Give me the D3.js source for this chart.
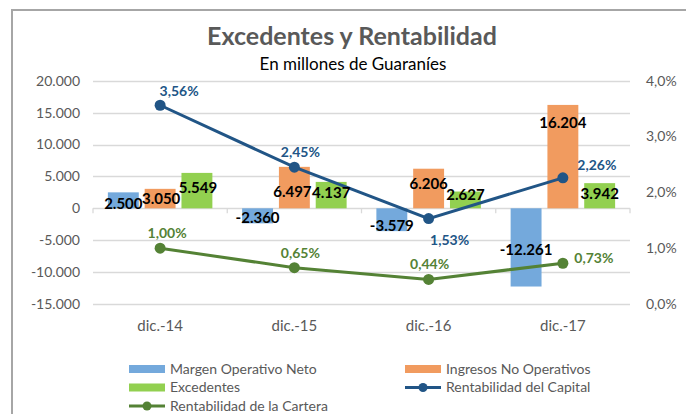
<!DOCTYPE html>
<html>
<head>
<meta charset="utf-8">
<script src="https://cdn.jsdelivr.net/npm/d3@7"></script>
<style>
  body { margin: 0; background: #fff; }
  svg { font-family: Lato, "Open Sans", sans-serif; }
  .tick-lbl { fill: #595959; font-size: 14px; }
  .cat-lbl { fill: #595959; font-size: 15px; }
  .legend text { fill: #595959; font-size: 14px; }
  .bar-lbl { font-weight: bold; font-size: 15px; fill: #000; text-anchor: middle; }
  .pct-lbl { font-weight: bold; font-size: 14px; text-anchor: middle; }
</style>
</head>
<body>
<svg id="chart" width="686" height="414"></svg>
<script>
// data
var categories = ["dic.-14", "dic.-15", "dic.-16", "dic.-17"];
var margenOperativo = [2500, -2360, -3579, -12261];
var ingresosNoOper = [3050, 6497, 6206, 16204];
var excedentes = [5549, 4137, 2627, 3942];
var rentCapital = [3.56, 2.45, 1.53, 2.26];
var rentCartera = [1.00, 0.65, 0.44, 0.73];
var leftTicks = [20000, 15000, 10000, 5000, 0, -5000, -10000, -15000];
var rightTicks = [4, 3, 2, 1, 0];

var barSeries = [
  { name: "Margen Operativo Neto", values: margenOperativo, color: "#74a9dc" },
  { name: "Ingresos No Operativos", values: ingresosNoOper, color: "#f19b5f" },
  { name: "Excedentes", values: excedentes, color: "#92d050" }
];
var lineSeries = [
  { name: "Rentabilidad del Capital", values: rentCapital, color: "#215586" },
  { name: "Rentabilidad de la Cartera", values: rentCartera, color: "#548235" }
];

var svg = d3.select("#chart");

// outer frame (chart border runs off the right/bottom edge)
svg.append("rect")
  .attr("x", 12).attr("y", 10)
  .attr("width", 700).attr("height", 430)
  .attr("fill", "#fff")
  .attr("stroke", "#a6a6a6")
  .attr("stroke-width", 2);

var plot = { left: 93, right: 630, top: 80.7, bottom: 304 };

var x = d3.scaleBand().domain(categories).range([plot.left, plot.right]);
var groupW = 104.5;
var x1 = d3.scaleBand().domain(d3.range(barSeries.length)).range([0, groupW]).paddingInner(0.16);
var y = d3.scaleLinear().domain([-15000, 20000]).range([plot.bottom, plot.top]);
var yR = d3.scaleLinear().domain([0, 4]).range([plot.bottom, plot.top]);

var fmtN = function (v) {
  var s = d3.format(",")(Math.abs(v)).replace(/,/g, ".");
  return (v < 0 ? "-" : "") + s;
};
var fmtP = function (v) { return v.toFixed(2).replace(".", ",") + "%"; };

// gridlines
svg.append("g").selectAll("line")
  .data(leftTicks)
  .enter().append("line")
  .attr("x1", plot.left).attr("x2", plot.right)
  .attr("y1", function (d) { return Math.round(y(d)) + 0.5; })
  .attr("y2", function (d) { return Math.round(y(d)) + 0.5; })
  .attr("stroke", "#d9d9d9").attr("stroke-width", 1.3);

// category tick marks on zero line
svg.append("g").selectAll("line")
  .data(d3.range(categories.length + 1))
  .enter().append("line")
  .attr("x1", function (i) { return plot.left + i * x.step(); })
  .attr("x2", function (i) { return plot.left + i * x.step(); })
  .attr("y1", y(0)).attr("y2", y(0) + 5)
  .attr("stroke", "#d9d9d9").attr("stroke-width", 1.3);

// left axis labels
svg.append("g").selectAll("text")
  .data(leftTicks)
  .enter().append("text")
  .attr("class", "tick-lbl")
  .attr("x", 80).attr("y", function (d) { return y(d); })
  .attr("dy", "0.35em")
  .attr("text-anchor", "end")
  .text(fmtN);

// right axis labels
svg.append("g").selectAll("text")
  .data(rightTicks)
  .enter().append("text")
  .attr("class", "tick-lbl")
  .attr("x", 646).attr("y", function (d) { return yR(d); })
  .attr("dy", "0.35em")
  .text(function (d) { return d.toFixed(1).replace(".", ",") + "%"; });

// category labels
svg.append("g").selectAll("text")
  .data(categories)
  .enter().append("text")
  .attr("class", "cat-lbl")
  .attr("x", function (d) { return x(d) + x.bandwidth() / 2; })
  .attr("y", 331)
  .attr("text-anchor", "middle")
  .text(function (d) { return d; });

// bars
var groupX = function (c) { return x(c) + (x.bandwidth() - groupW) / 2; };
barSeries.forEach(function (s, si) {
  svg.append("g").selectAll("rect")
    .data(s.values)
    .enter().append("rect")
    .attr("x", function (d, i) { return groupX(categories[i]) + x1(si); })
    .attr("y", function (d) { return y(Math.max(0, d)); })
    .attr("width", x1.bandwidth())
    .attr("height", function (d) { return Math.abs(y(d) - y(0)); })
    .attr("fill", s.color);
});

// lines
var line = d3.line()
  .x(function (d, i) { return x(categories[i]) + x.bandwidth() / 2; })
  .y(function (d) { return yR(d); });

lineSeries.forEach(function (s) {
  svg.append("path")
    .datum(s.values)
    .attr("d", line)
    .attr("fill", "none")
    .attr("stroke", s.color)
    .attr("stroke-width", 3);
  svg.append("g").selectAll("circle")
    .data(s.values)
    .enter().append("circle")
    .attr("cx", function (d, i) { return x(categories[i]) + x.bandwidth() / 2; })
    .attr("cy", function (d) { return yR(d); })
    .attr("r", 5.5)
    .attr("fill", s.color);
});

// bar value labels (inside end, some nudged like in the original)
var barNudge = [
  [[0, 11], [0, -6], [0, -5], [0, -37]],
  [[1, 10], [-2, 25], [0, 15], [0, 18]],
  [[1, 15], [0, 11], [0, 3], [0, 11]]
];
barSeries.forEach(function (s, si) {
  svg.append("g").selectAll("text")
    .data(s.values)
    .enter().append("text")
    .attr("class", "bar-lbl")
    .attr("x", function (d, i) { return groupX(categories[i]) + x1(si) + x1.bandwidth() / 2 + barNudge[si][i][0]; })
    .attr("y", function (d, i) { return y(d) + barNudge[si][i][1]; })
    .attr("dy", "0.35em")
    .text(fmtN);
});

// percentage labels
var pctNudge = [
  [[19, -14], [6, -15], [21, 22], [34, -13]],
  [[7, -15], [6, -15], [1, -15], [31, -5]]
];
lineSeries.forEach(function (s, si) {
  svg.append("g").selectAll("text")
    .data(s.values)
    .enter().append("text")
    .attr("class", "pct-lbl")
    .attr("fill", s.color)
    .attr("x", function (d, i) { return x(categories[i]) + x.bandwidth() / 2 + pctNudge[si][i][0]; })
    .attr("y", function (d, i) { return yR(d) + pctNudge[si][i][1]; })
    .attr("dy", "0.35em")
    .text(fmtP);
});

// title
svg.append("text")
  .attr("x", 352).attr("y", 45)
  .attr("text-anchor", "middle")
  .attr("fill", "#595959")
  .attr("font-size", 25).attr("font-weight", "bold")
  .text("Excedentes y Rentabilidad");
svg.append("text")
  .attr("x", 353).attr("y", 70)
  .attr("text-anchor", "middle")
  .attr("fill", "#000")
  .attr("font-size", 17)
  .text("En millones de Guaraníes");

// legend
var legendItems = [
  { name: barSeries[0].name, color: barSeries[0].color, type: "bar" },
  { name: barSeries[1].name, color: barSeries[1].color, type: "bar" },
  { name: barSeries[2].name, color: barSeries[2].color, type: "bar" },
  { name: lineSeries[0].name, color: lineSeries[0].color, type: "line" },
  { name: lineSeries[1].name, color: lineSeries[1].color, type: "line" }
];
var legend = svg.append("g").attr("class", "legend");
legendItems.forEach(function (it, i) {
  var gx = i % 2 === 0 ? 129 : 405;
  var gy = 369 + Math.floor(i / 2) * 18.5;
  var g = legend.append("g").attr("transform", "translate(" + gx + "," + gy + ")");
  if (it.type === "bar") {
    g.append("rect").attr("x", 0).attr("y", -4).attr("width", 36).attr("height", 8).attr("fill", it.color);
  } else {
    g.append("line").attr("x1", 0).attr("x2", 36).attr("y1", 0).attr("y2", 0)
      .attr("stroke", it.color).attr("stroke-width", 3);
    g.append("circle").attr("cx", 18).attr("cy", 0).attr("r", 4.5).attr("fill", it.color);
  }
  g.append("text").attr("x", 41).attr("y", 0).attr("dy", "0.35em").text(it.name);
});
</script>
</body>
</html>
